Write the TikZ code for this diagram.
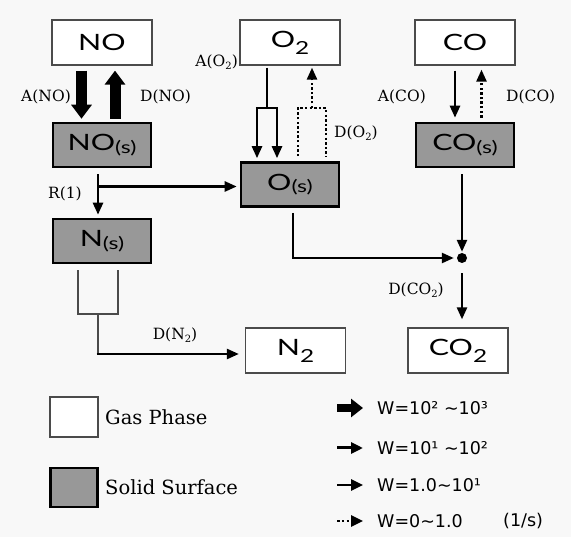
\documentclass[tikz,border=0pt]{standalone}
\usepackage{fontspec}
\usetikzlibrary{arrows.meta}
\newfontfamily\boxfont{Lato}[FakeStretch=1.35]
\newfontfamily\lblfont{DejaVu Serif}
\newfontfamily\legfont{DejaVu Sans}
\definecolor{surfgray}{RGB}{152,152,152}
\definecolor{gasline}{RGB}{75,75,75}
\definecolor{paper}{RGB}{248,248,248}
\newcommand{\subs}{\raisebox{-2.5pt}{\fontsize{17}{17}\selectfont(s)}}
\newcommand{\subtwo}{\raisebox{-7pt}{\fontsize{18}{18}\selectfont 2}}
\newcommand{\lsub}[1]{\raisebox{-2.5pt}{\fontsize{10}{10}\selectfont #1}}
\begin{document}
\begin{tikzpicture}[x=1pt,y=-1pt,
  gas/.style={draw=gasline, line width=1.3pt, fill=white, minimum width=100pt, minimum height=45pt, inner sep=0pt, font=\boxfont\fontsize{22.5}{22.5}\selectfont},
  surface/.style={draw=black, line width=2.6pt, fill=surfgray, minimum width=98pt, minimum height=44pt, inner sep=0pt, font=\boxfont\fontsize{22.5}{22.5}\selectfont},
  lbl/.style={font=\lblfont\fontsize{15.5}{15.5}\selectfont, inner sep=0pt},
  legtext/.style={font=\legfont\fontsize{17.5}{17.5}\selectfont, inner sep=0pt, anchor=west},
  bigtext/.style={font=\lblfont\fontsize{19.5}{19.5}\selectfont, inner sep=0pt, anchor=west},
  tipm/.tip={Triangle[width=10pt,length=12pt]},
  plain/.style={line width=2.5pt},
  conn/.style={line width=2.5pt, -tipm},
  dotline/.style={line width=2.5pt, dash pattern=on 2.4pt off 2.2pt},
  dconn/.style={dotline, -tipm},
  fat/.style={line width=11pt, -{Triangle[width=20pt,length=14pt]}},
  forkline/.style={line width=2pt, draw=gasline}
]
\fill[paper] (0,0) rectangle (571,537);
\useasboundingbox (0,0) rectangle (571,537);

% boxes
\node[gas] (NO) at (102,42.5) {NO};
\node[surface] (NOs) at (102,145) {NO\subs};
\node[surface] (Ns) at (102,241) {N\subs};
\node[gas] (O2) at (290,42.5) {O\subtwo};
\node[surface] (Os) at (290,184.5) {O\subs};
\node[gas] (CO) at (465,42.5) {CO};
\node[surface] (COs) at (465,145) {CO\subs};
\node[gas] (N2) at (295.5,350.5) {N\subtwo};
\node[gas] (CO2) at (458,350.5) {CO\subtwo};
\node[circle, fill=black, inner sep=0pt, minimum size=10pt] (dot) at (462,258) {};

% NO adsorption / desorption
\coordinate (xANO) at (81.5,0);
\coordinate (xDNO) at (115,0);
\draw[fat, shorten <=5pt, shorten >=3pt] (NO.south -| xANO) -- (NOs.north -| xANO);
\draw[fat, shorten <=3pt, shorten >=5pt] (NOs.north -| xDNO) -- (NO.south -| xDNO);
\node[lbl, anchor=east] (lANO) at (71,97) {A(NO)};
\node[lbl, anchor=west] (lDNO) at (140,97) {D(NO)};

% O2 adsorption
\coordinate (fA) at (267,108);
\coordinate (fAl) at (257,108);
\coordinate (fAr) at (277,108);
\draw[plain, shorten <=2pt] (O2.south -| fA) -- (fA);
\draw[plain] ([xshift=-1.25pt]fAl) -- ([xshift=1.25pt]fAr);
\draw[conn, shorten >=3pt] (fAl) -- (Os.north -| fAl);
\draw[conn, shorten >=3pt] (fAr) -- (Os.north -| fAr);
\node[lbl, anchor=east] (lAO2) at (238,62) {A(O\lsub{2})};

% O2 desorption
\coordinate (dL) at (298,108);
\coordinate (dR) at (326,108);
\coordinate (dC) at (312,108);
\draw[dotline, shorten <=5pt, shorten >=5pt] (Os.north -| dL) -- (dL) -- (dR) -- (Os.north -| dR);
\draw[dconn, shorten >=2pt] (dC) -- (O2.south -| dC);
\node[lbl, anchor=west] (lDO2) at (334,133) {D(O\lsub{2})};

% CO adsorption / desorption
\coordinate (xACO) at (455,0);
\coordinate (xDCO) at (481.5,0);
\draw[conn, shorten <=5pt, shorten >=4pt] (CO.south -| xACO) -- (COs.north -| xACO);
\draw[dconn, shorten <=4pt, shorten >=4pt] (COs.north -| xDCO) -- (CO.south -| xDCO);
\node[lbl, anchor=east] (lACO) at (426,97) {A(CO)};
\node[lbl, anchor=west] (lDCO) at (506,97) {D(CO)};

% R(1)
\coordinate (xR) at (98,0);
\coordinate (r1h) at (98,186.5);
\draw[conn, shorten <=6pt, shorten >=3pt] (NOs.south -| xR) -- (Ns.north -| xR);
\draw[conn, shorten >=3pt] (r1h) -- (Os.west |- r1h);
\node[lbl, anchor=east] (lR) at (82,194) {R(1)};

% O(s) and CO(s) to the dot
\coordinate (xO) at (293,0);
\draw[conn, shorten <=5pt, shorten >=3pt] (Os.south -| xO) |- (dot);
\draw[conn, shorten <=6pt, shorten >=1pt] (COs.south -| dot) -- (dot);

% CO2 desorption
\draw[conn, shorten <=10pt, shorten >=8pt] (dot) -- (CO2.north -| dot);
\node[lbl] (lDCO2) at (416,290) {D(CO\lsub{2})};

% N2 desorption
\coordinate (nL) at (78,314);
\coordinate (nR) at (117.5,314);
\coordinate (nC) at (97.5,314);
\coordinate (nB) at (97.5,354);
\draw[forkline, shorten <=6pt, shorten >=6pt] (Ns.south -| nL) -- (nL) -- (nR) -- (Ns.south -| nR);
\draw[forkline] (nC) -- (nB);
\draw[conn, shorten >=6pt] ([xshift=-1pt]nB) -- (N2.west |- nB);
\node[lbl] (lDN2) at (175,335) {D(N\lsub{2})};

% legend boxes
\node[gas, minimum width=48pt, minimum height=40pt] (lgGas) at (74,417) {};
\node[surface, minimum width=47pt, minimum height=39pt] (lgSolid) at (74,487.5) {};
\node[bigtext] (tGas) at (105,417) {Gas Phase};
\node[bigtext] (tSolid) at (105,487.5) {Solid Surface};

% legend arrows
\coordinate (a1s) at (337,408); \coordinate (a1e) at (363,408);
\coordinate (a2s) at (337,448); \coordinate (a2e) at (363,448);
\coordinate (a3s) at (337,485); \coordinate (a3e) at (363,485);
\coordinate (a4s) at (337,521); \coordinate (a4e) at (363,521);
\draw[line width=8pt, -{Triangle[width=18pt,length=12pt]}] (a1s) -- (a1e);
\draw[line width=3pt, -{Triangle[width=11pt,length=12pt]}] (a2s) -- (a2e);
\draw[line width=2.6pt, -{Triangle[width=11pt,length=12pt]}] (a3s) -- (a3e);
\draw[line width=2.6pt, dash pattern=on 2.6pt off 2.2pt, -{Triangle[width=11pt,length=12pt]}] (a4s) -- (a4e);
\node[legtext] (w1) at (377,408) {W=10² ∼10³};
\node[legtext] (w2) at (377,448) {W=10¹ ∼10²};
\node[legtext] (w3) at (377,485) {W=1.0∼10¹};
\node[legtext] (w4) at (377,521) {W=0∼1.0};
\node[legtext] (unit) at (503,521) {(1/s)};
\end{tikzpicture}
\end{document}
